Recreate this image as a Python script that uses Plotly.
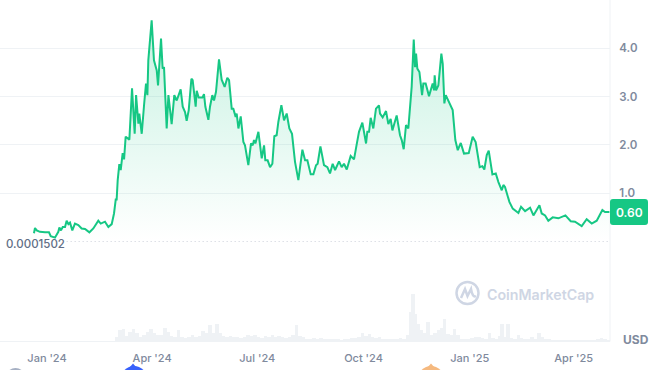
import pandas as pd
import plotly.graph_objects as go

GREEN = "#16c784"
GRID = "#eff2f5"
TXT = "#808a9d"

price_days = [-11.3,-10.4,-8.9,-6.1,-1.7,1.7,3.2,6.9,9.8,10.7,12.1,13.6,15.6,17.0,18.5,19.9,21.9,24.2,27.1,30.0,32.9,36.7,40.1,44.4,46.5,50.2,53.1,56.0,58.0,59.5,60.3,61.2,62.6,63.8,65.5,66.7,68.1,71.3,73.6,75.9,77.1,79.1,79.9,82.0,84.0,85.7,86.9,87.7,90.6,92.6,95.0,96.1,98.7,100.1,101.3,103.6,105.1,106.5,107.9,110.2,112.3,115.7,117.5,119.5,120.9,122.7,125.0,126.1,128.7,129.6,131.3,134.5,135.9,137.1,139.7,141.1,143.1,144.6,146.3,148.9,151.2,153.8,156.1,157.6,159.9,161.3,163.3,164.2,165.7,167.7,170.0,171.4,174.3,176.6,178.1,179.2,180.4,183.0,185.9,187.9,189.0,191.0,193.1,195.1,196.8,198.8,200.3,202.9,205.2,207.5,209.8,212.1,214.7,217.6,221.1,223.4,225.4,228.3,230.6,232.9,234.3,236.7,239.8,242.7,245.0,
247.3,249.4,252.8,255.1,257.1,259.5,262.9,265.8,268.1,270.1,273.0,276.2,277.3,278.8,280.2,282.5,284.8,287.4,288.3,290.6,293.5,295.5,297.5,299.0,302.7,305.6,307.1,308.8,310.8,312.8,315.7,317.5,318.6,319.5,320.6,322.4,324.7,325.8,327.8,330.7,333.9,335.1,335.6,336.8,338.8,341.4,342.6,344.0,345.2,347.5,351.2,353.5,355.6,358.2,361.0,365.1,368.5,371.1,374.6,376.9,378.6,380.7,382.4,385.6,388.5,390.8,393.7,395.1,396.5,400.3,403.2,408.1,410.4,413.9,418.2,421.1,426.3,428.3,431.2,434.0,437.8,442.7,445.6,448.8,453.4,457.1,462.9,467.2,471.6,475.9,480.8,483.1,486.9]
price_values = [.17,.28,.23,.20,.19,.19,.11,.08,.20,.29,.23,.30,.30,.43,.36,.39,.23,.37,.34,.27,.26,.19,.27,.43,.37,.41,.30,.36,.58,.87,.87,1.27,1.60,1.48,1.83,1.70,2.17,2.11,3.17,2.23,3.03,2.44,2.65,2.23,2.82,3.27,3.03,3.75,4.58,3.75,3.54,3.23,4.20,3.58,3.61,2.34,3.03,2.72,2.43,3.03,2.92,3.15,2.79,2.68,2.50,2.72,3.37,3.34,2.79,3.12,2.98,2.98,3.05,2.79,2.52,2.79,3.03,2.92,3.10,3.77,3.35,3.20,3.39,3.34,2.75,2.75,2.58,2.65,2.34,2.59,2.06,1.99,1.58,2.03,1.99,2.10,2.03,2.27,1.72,1.99,1.68,1.68,1.54,1.61,2.18,2.20,2.48,2.82,2.51,2.65,2.34,2.23,1.65,1.27,1.90,1.68,1.68,1.39,1.39,1.58,1.61,1.97,1.58,1.54,1.41,
1.61,1.48,1.66,1.54,1.61,1.49,1.77,1.70,2.01,2.27,2.46,2.03,2.27,2.27,2.56,2.34,2.75,2.82,2.65,2.57,2.70,2.43,2.54,2.30,2.61,2.20,2.10,1.91,2.41,2.34,3.20,4.18,3.61,3.89,3.58,3.51,3.03,3.27,3.27,3.01,3.27,3.13,3.44,3.13,3.23,3.89,3.68,2.86,3.03,2.92,2.72,2.10,1.89,2.04,1.82,1.83,2.17,2.06,1.54,1.56,1.49,1.79,1.88,1.39,1.41,1.23,1.06,1.17,1.13,.82,.68,.59,.72,.63,.70,.54,.75,.58,.54,.43,.50,.48,.51,.54,.42,.41,.32,.46,.37,.43,.65,.61,.61]

volume_days = [57,60,63,66,69,72,75,78,81,84,87,90,93,96,99,102,105,108,111,114,117,120,123,126,129,132,135,138,141,144,147,150,153,156,159,162,165,168,171,174,177,180,183,186,189,192,195,198,201,204,207,210,213,216,219,222,225,228,231,234,237,240,243,246,249,252,255,258,261,264,267,270,273,276,279,282,285,288,291,294,297,300,303,306,309,312,315,317,319,321,324,327,330,333,336,339,342,344,347,350,353,356,359,362,365,368,371,374,377,380,383,386,389,392,394,397,399,402,405,408,411,414,417,420,423,426,429,432,435,438,441,444,447,450,453,456,459,462,465,468,471,474,477,480,483,486]
volume_values = [2,14,35,38,18,30,38,28,14,22,30,38,26,20,22,42,30,18,15,35,15,12,14,20,15,18,34,26,52,26,55,26,18,15,18,14,14,12,14,20,18,22,15,12,18,14,22,16,18,14,12,14,22,52,18,14,10,10,12,10,12,10,8,8,8,8,6,8,10,12,12,16,28,18,24,14,12,14,10,8,8,8,10,12,10,20,90,145,85,55,35,28,60,22,28,36,42,70,25,22,40,20,10,8,8,12,14,14,12,10,28,12,8,18,55,14,55,12,10,22,12,8,10,14,10,26,14,10,8,7,7,7,6,6,6,5,6,5,6,7,6,6,8,12,8,6]

tick_dates = ["2024-01-01","2024-04-01","2024-07-01","2024-10-01","2025-01-01","2025-04-01"]
tick_labels = ["Jan '24","Apr '24","Jul '24","Oct '24","Jan '25","Apr '25"]
price_ticks = [1,2,3,4]
price_tick_labels = ["1.0","2.0","3.0","4.0"]
low_value = 0.0001502
last_value = 0.60

origin = pd.Timestamp("2024-01-01")
to_dates = lambda d: [origin + pd.Timedelta(days=float(v)) for v in d]
W, H = 664, 370
px = lambda x, y: f"{x/W:.5f} {1-y/H:.5f}"

fig = go.Figure()
fig.add_trace(go.Bar(x=to_dates(volume_days), y=volume_values, xaxis="x", yaxis="y2",
                     width=3*86400000, marker=dict(color=GRID, line_width=0)))
fig.add_trace(go.Scatter(x=to_dates(price_days), y=price_values, mode="lines", xaxis="x", yaxis="y",
                         line=dict(color=GREEN, width=2), fill="tozeroy",
                         fillgradient=dict(type="vertical", colorscale=[[0, "rgba(22,199,132,0)"], [1, "rgba(22,199,132,0.24)"]])))
fig.add_trace(go.Scatter(x=[origin + pd.Timedelta(days=17), origin + pd.Timedelta(days=487)],
                         y=[low_value, low_value], mode="lines", xaxis="x", yaxis="y", cliponaxis=False,
                         line=dict(color="#98a1b3", width=1, dash="1px,3px")))

def rounded(x0, y0, x1, y1, r):
    return (f"M {px(x0+r,y0)} L {px(x1-r,y0)} Q {px(x1,y0)} {px(x1,y0+r)} L {px(x1,y1-r)} Q {px(x1,y1)} {px(x1-r,y1)} "
            f"L {px(x0+r,y1)} Q {px(x0,y1)} {px(x0,y1-r)} L {px(x0,y0+r)} Q {px(x0,y0)} {px(x0+r,y0)} Z")

shapes = [
    dict(type="line", xref="paper", yref="paper", x0=610/W, x1=610/W, y0=1-341.5/H, y1=1, line=dict(color=GRID, width=1), layer="below"),
    dict(type="line", xref="paper", yref="paper", x0=0, x1=610/W, y0=1-341.5/H, y1=1-341.5/H, line=dict(color=GRID, width=1), layer="below"),
    dict(type="path", xref="paper", yref="paper", path=rounded(610, 199, 648, 225, 3), fillcolor=GREEN, line_width=0),
    # clipped event markers at the bottom edge
    dict(type="circle", xref="paper", yref="paper", x0=6/W, x1=25/W, y0=1-386/H, y1=1-368/H, fillcolor="#a6b0c3", line_width=0),
    dict(type="circle", xref="paper", yref="paper", x0=121/W, x1=147/W, y0=1-392/H, y1=1-366/H, fillcolor="#3861fb", line_width=0),
    dict(type="path", xref="paper", yref="paper", path=f"M {px(129,368)} L {px(133,363.5)} L {px(137,368)} Z", fillcolor="#3861fb", line_width=0),
    dict(type="circle", xref="paper", yref="paper", x0=418/W, x1=444/W, y0=1-392/H, y1=1-366/H, fillcolor="#f5b97f", line_width=0),
    dict(type="path", xref="paper", yref="paper", path=f"M {px(427,368)} L {px(431,363.5)} L {px(435,368)} Z", fillcolor="#f5b97f", line_width=0),
    # watermark logo
    dict(type="circle", xref="paper", yref="paper", x0=456.5/W, x1=478.5/W, y0=1-304/H, y1=1-282/H, line=dict(color="#cfd6e4", width=2.5), fillcolor="rgba(0,0,0,0)"),
    dict(type="path", xref="paper", yref="paper",
         path=f"M {px(461,298)} L {px(465,289)} L {px(467.5,296)} L {px(471,289)} Q {px(472.5,298)} {px(476,296)}",
         line=dict(color="#cfd6e4", width=2.5), fillcolor="rgba(0,0,0,0)"),
]

ann = lambda text, x, y, size, color, weight=400, xanchor="left": dict(
    text=text, x=x/W, y=1-y/H, xref="paper", yref="paper", showarrow=False, xanchor=xanchor, yanchor="middle",
    xshift=0, borderpad=0, font=dict(family="Inter", size=size, color=color, weight=weight))

annotations = [
    ann(f"{last_value:.2f}", 629, 212, 12, "#ffffff", 600, "center"),
    ann("USD", 622, 339, 12, TXT, 700),
    ann(f"{low_value:.7f}", 5, 244, 11.5, "#616e85", 500),
    ann("CoinMarketCap", 486, 294, 14.2, "#cfd6e4", 600),
]

fig.update_layout(
    width=W, height=H, autosize=False, margin=dict(l=0, r=0, t=0, b=0),
    paper_bgcolor="#ffffff", plot_bgcolor="#ffffff", showlegend=False, bargap=0,
    shapes=shapes, annotations=annotations, font=dict(family="Inter", color=TXT),
    xaxis=dict(domain=[0, 610/W], range=[origin - pd.Timedelta(days=40.7), origin + pd.Timedelta(days=487.4)],
               anchor="y2", tickmode="array", tickvals=tick_dates, ticktext=tick_labels, showgrid=False, zeroline=False,
               ticks="outside", ticklen=6, tickcolor="rgba(0,0,0,0)", tickfont=dict(family="Inter", size=11, color=TXT, weight=500), showline=False),
    yaxis=dict(domain=[1-241.5/H, 1], range=[0, 5], side="right", anchor="x", tickmode="array",
               tickvals=price_ticks, ticktext=price_tick_labels, gridcolor=GRID, gridwidth=1, zeroline=False, showline=False,
               ticks="outside", ticklen=6, tickcolor="rgba(0,0,0,0)", tickfont=dict(family="Inter", size=11.5, color=TXT, weight=600)),
    yaxis2=dict(domain=[1-341.5/H, 1-290.5/H], range=[0, 154], side="right", anchor="x", tickmode="array",
                tickvals=[154], showticklabels=False, gridcolor=GRID, gridwidth=1, zeroline=False, showline=False),
)
fig.write_html("out.html", config={"displayModeBar": False},
               post_script="document.body.style.margin='0';document.documentElement.style.overflow='hidden';")
